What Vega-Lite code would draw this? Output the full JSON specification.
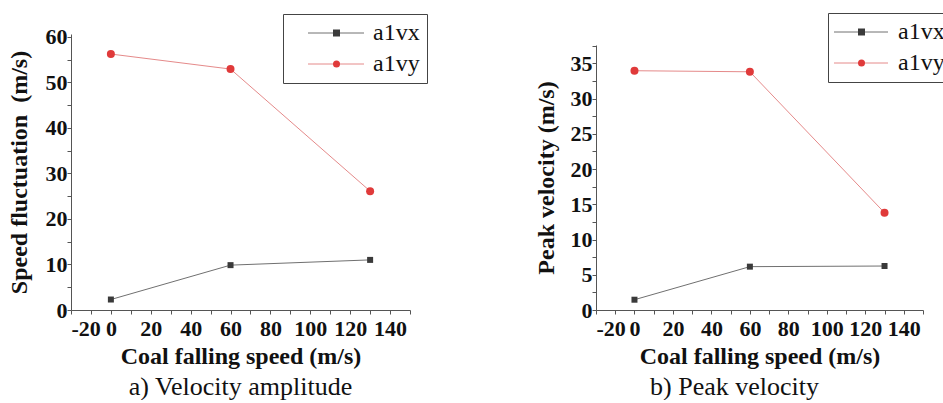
{
  "$schema": "https://vega.github.io/schema/vega-lite/v6.json",
  "padding": {"left": 6, "top": 12, "right": 0, "bottom": 0},
  "background": "white",
  "datasets": {
    "pts": [
      {"panel": "a", "series": "a1vx", "speed": 0, "value": 2.3},
      {"panel": "a", "series": "a1vx", "speed": 60, "value": 9.85},
      {"panel": "a", "series": "a1vx", "speed": 130, "value": 11.0},
      {"panel": "a", "series": "a1vy", "speed": 0, "value": 56.2},
      {"panel": "a", "series": "a1vy", "speed": 60, "value": 52.9},
      {"panel": "a", "series": "a1vy", "speed": 130, "value": 26.1},
      {"panel": "b", "series": "a1vx", "speed": 0, "value": 1.46},
      {"panel": "b", "series": "a1vx", "speed": 60, "value": 6.15},
      {"panel": "b", "series": "a1vx", "speed": 130, "value": 6.24},
      {"panel": "b", "series": "a1vy", "speed": 0, "value": 33.95},
      {"panel": "b", "series": "a1vy", "speed": 60, "value": 33.8},
      {"panel": "b", "series": "a1vy", "speed": 130, "value": 13.8}
    ]
  },
  "data": {"name": "pts"},
  "spacing": 106,
  "resolve": {
    "scale": {"shape": "independent", "fill": "independent", "stroke": "independent", "x": "independent", "y": "independent"},
    "legend": {"shape": "independent", "fill": "independent", "stroke": "independent"}
  },
  "hconcat": [
    {
      "width": 339,
      "height": 276,
      "title": {"text": "a) Velocity amplitude", "orient": "bottom", "offset": 6},
      "transform": [{"filter": "datum.panel === 'a'"}],
      "encoding": {
        "x": {
          "field": "speed", "type": "quantitative",
          "scale": {"domain": [-20, 150], "nice": false, "zero": false},
          "axis": {
            "title": "Coal falling speed (m/s)",
            "values": [-20, -10, 0, 10, 20, 30, 40, 50, 60, 70, 80, 90, 100, 110, 120, 130, 140, 150],
            "labelExpr": "datum.value % 20 === 0 && datum.value <= 140 ? '' + datum.value : ''",
            "labelFontWeight": "bold",
            "labelPadding": 4,
            "titlePadding": 5
          }
        },
        "y": {
          "field": "value", "type": "quantitative",
          "scale": {"domain": [0, 60.6], "nice": false},
          "axis": {
            "title": "Speed fluctuation\u00a0 (m/s)",
            "values": [0, 5, 10, 15, 20, 25, 30, 35, 40, 45, 50, 55, 60],
            "labelExpr": "datum.value % 10 === 0 ? datum.label : ''",
            "labelFontWeight": "bold",
            "labelPadding": 0,
            "titlePadding": 14
          }
        }
      },
      "layer": [
        {
          "mark": {"type": "line", "strokeWidth": 1},
          "encoding": {
            "stroke": {
              "field": "series", "type": "nominal",
              "scale": {"domain": ["a1vx", "a1vy"], "range": ["#707070", "#e58a8a"]},
              "legend": {
                "title": null, "orient": "none", "legendX": 212, "legendY": -20,
                "padding": 7, "strokeColor": "#444", "fillColor": "transparent",
                "symbolType": "M-2.8,0H2.8", "symbolSize": 400, "symbolStrokeWidth": 1,
                "symbolOffset": 34, "labelOffset": 25, "rowPadding": 7,
                "labelFont": "Liberation Serif", "labelFontSize": 24, "labelColor": "#111"
              }
            }
          }
        },
        {
          "mark": {"type": "point", "filled": true, "opacity": 1},
          "encoding": {
            "size": {"condition": {"test": "datum.series === 'a1vx'", "value": 36}, "value": 64},
            "fill": {
              "field": "series", "type": "nominal",
              "scale": {"range": ["#3a3a3a", "#e03a3a"]},
              "legend": {
                "title": null, "orient": "none", "legendX": 212, "legendY": -20,
                "padding": 7, "strokeColor": "transparent", "fillColor": "transparent",
                "symbolSize": 49, "symbolStrokeWidth": 0,
                "symbolOffset": 34.5, "labelOffset": 25, "rowPadding": 7,
                "labelFont": "Liberation Serif", "labelFontSize": 24, "labelExpr": "''"
              }
            },
            "shape": {
              "field": "series", "type": "nominal",
              "scale": {"range": ["square", "circle"]},
              "legend": {
                "title": null, "orient": "none", "legendX": 212, "legendY": -20,
                "padding": 7, "strokeColor": "transparent", "fillColor": "transparent",
                "symbolSize": 49, "symbolStrokeWidth": 0,
                "symbolOffset": 34.5, "labelOffset": 25, "rowPadding": 7,
                "labelFont": "Liberation Serif", "labelFontSize": 24, "labelExpr": "''"
              }
            }
          }
        }
      ]
    },
    {
      "width": 327,
      "height": 276,
      "title": {"text": "b) Peak velocity", "orient": "bottom", "offset": 6, "dx": -25},
      "transform": [{"filter": "datum.panel === 'b'"}],
      "encoding": {
        "x": {
          "field": "speed", "type": "quantitative",
          "scale": {"domain": [-20, 150], "nice": false, "zero": false},
          "axis": {
            "title": "Coal falling speed (m/s)",
            "values": [-20, -10, 0, 10, 20, 30, 40, 50, 60, 70, 80, 90, 100, 110, 120, 130, 140, 150],
            "labelExpr": "datum.value % 20 === 0 && datum.value <= 140 ? '' + datum.value : ''",
            "labelFontWeight": "bold",
            "labelPadding": 4,
            "titlePadding": 5
          }
        },
        "y": {
          "field": "value", "type": "quantitative",
          "scale": {"domain": [0, 37.6], "nice": false, "range": [276, 11]},
          "axis": {
            "title": "Peak velocity (m/s)",
            "values": [0, 2.5, 5, 7.5, 10, 12.5, 15, 17.5, 20, 22.5, 25, 27.5, 30, 32.5, 35, 37.5],
            "labelExpr": "datum.value % 5 === 0 ? datum.label : ''",
            "labelFontWeight": "bold",
            "labelPadding": 0,
            "titlePadding": 12
          }
        }
      },
      "layer": [
        {
          "mark": {"type": "line", "strokeWidth": 1},
          "encoding": {
            "stroke": {
              "field": "series", "type": "nominal",
              "scale": {"domain": ["a1vx", "a1vy"], "range": ["#707070", "#e58a8a"]},
              "legend": {
                "title": null, "orient": "none", "legendX": 232, "legendY": -21,
                "padding": 7, "strokeColor": "#444", "fillColor": "transparent",
                "symbolType": "M-2.7,0H2.7", "symbolSize": 400, "symbolStrokeWidth": 1,
                "symbolOffset": 14, "labelOffset": 25, "rowPadding": 7,
                "labelFont": "Liberation Serif", "labelFontSize": 24, "labelColor": "#111"
              }
            }
          }
        },
        {
          "mark": {"type": "point", "filled": true, "opacity": 1},
          "encoding": {
            "size": {"condition": {"test": "datum.series === 'a1vx'", "value": 36}, "value": 64},
            "fill": {
              "field": "series", "type": "nominal",
              "scale": {"range": ["#3a3a3a", "#e03a3a"]},
              "legend": {
                "title": null, "orient": "none", "legendX": 232, "legendY": -21,
                "padding": 7, "strokeColor": "transparent", "fillColor": "transparent",
                "symbolSize": 49, "symbolStrokeWidth": 0,
                "symbolOffset": 14.5, "labelOffset": 25, "rowPadding": 7,
                "labelFont": "Liberation Serif", "labelFontSize": 24, "labelExpr": "''"
              }
            },
            "shape": {
              "field": "series", "type": "nominal",
              "scale": {"range": ["square", "circle"]},
              "legend": {
                "title": null, "orient": "none", "legendX": 232, "legendY": -21,
                "padding": 7, "strokeColor": "transparent", "fillColor": "transparent",
                "symbolSize": 49, "symbolStrokeWidth": 0,
                "symbolOffset": 14.5, "labelOffset": 25, "rowPadding": 7,
                "labelFont": "Liberation Serif", "labelFontSize": 24, "labelExpr": "''"
              }
            }
          }
        }
      ]
    }
  ],
  "config": {
    "font": "Liberation Serif",
    "view": {"stroke": null},
    "axis": {
      "labelFont": "Liberation Serif", "labelFontSize": 22, "labelFontWeight": "bold", "labelColor": "#111",
      "titleFont": "Liberation Serif", "titleFontSize": 24, "titleFontWeight": "bold", "titleColor": "#111",
      "domainColor": "#555", "tickColor": "#555", "tickSize": 4, "grid": false, "labelOverlap": false
    },
    "title": {"font": "Liberation Serif", "fontSize": 26, "fontWeight": "normal", "color": "#111", "anchor": "middle"}
  }
}
